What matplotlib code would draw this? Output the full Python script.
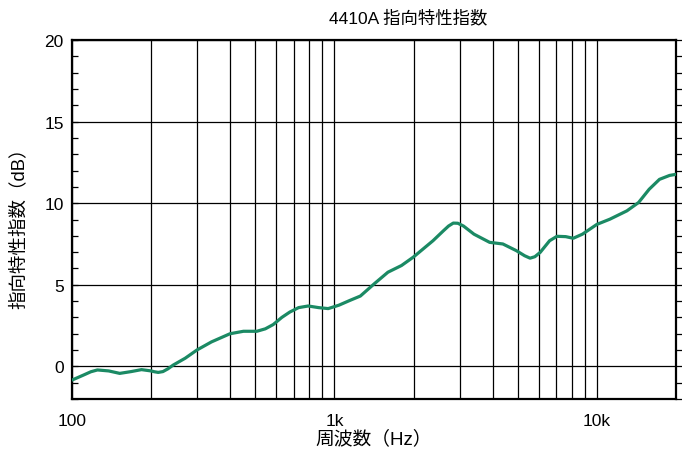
import matplotlib
matplotlib.use("Agg")
import matplotlib.pyplot as plt
from matplotlib.ticker import FixedLocator, LogLocator, MultipleLocator, NullFormatter

plt.rcParams['font.family'] = ['Liberation Sans', 'Noto Sans CJK JP', 'DejaVu Sans']

# Directivity index of the 4410A (dB) versus frequency (Hz)
freq_hz = [100, 110, 118, 125, 138, 152, 168, 184, 200, 206, 213, 222, 232, 243,
           270, 299, 340, 400, 450, 506, 545, 584, 630, 676, 730, 794, 870, 946,
           1040, 1144, 1255, 1415, 1598, 1800, 1995, 2373, 2600, 2720, 2835,
           2950, 3100, 3400, 3900, 4380, 4930, 5300, 5560, 5800, 6080, 6600,
           7040, 7600, 8120, 8800, 9990, 11200, 13000, 14400, 15800, 17300,
           18900, 20000]
di_db = [-0.84, -0.55, -0.33, -0.22, -0.28, -0.43, -0.32, -0.20, -0.28, -0.33,
         -0.37, -0.32, -0.15, 0.08, 0.50, 1.00, 1.50, 2.00, 2.15, 2.15, 2.30,
         2.56, 3.00, 3.33, 3.60, 3.70, 3.60, 3.54, 3.75, 4.04, 4.31, 5.05, 5.77,
         6.18, 6.69, 7.70, 8.31, 8.60, 8.78, 8.77, 8.60, 8.10, 7.60, 7.50, 7.09,
         6.78, 6.63, 6.72, 6.99, 7.70, 7.97, 7.95, 7.85, 8.10, 8.70, 9.02, 9.53,
         10.04, 10.85, 11.46, 11.70, 11.77]

x_major = [100, 1000, 10000]
x_major_labels = ['100', '1k', '10k']
y_major = [0, 5, 10, 15, 20]

title = '4410A 指向特性指数'
xlabel = '周波数（Hz）'
ylabel = '指向特性指数（dB）'

fig = plt.figure(figsize=(6.82, 4.56), dpi=100)
ax = fig.add_axes([72 / 682, 1 - 400 / 456, (676 - 72) / 682, (400 - 41) / 456])

ax.set_xscale('log')
ax.set_xlim(100, 20000)
ax.set_ylim(-2, 20)

ax.xaxis.set_major_locator(FixedLocator(x_major))
ax.set_xticks(x_major, x_major_labels)
ax.xaxis.set_minor_locator(LogLocator(base=10, subs=range(2, 10), numticks=20))
ax.xaxis.set_minor_formatter(NullFormatter())
ax.yaxis.set_major_locator(FixedLocator(y_major))
ax.yaxis.set_minor_locator(MultipleLocator(1))

ax.grid(True, which='both', axis='x', color='black', linewidth=0.9)
ax.grid(True, which='major', axis='y', color='black', linewidth=0.9)

ax.tick_params(axis='x', which='both', length=0, pad=10, labelsize=12.5)
ax.tick_params(axis='y', which='both', direction='in', length=4, width=0.9,
               pad=6, labelsize=12.5, right=False)

for s in ax.spines.values():
    s.set_linewidth(1.6)

# right side ticks point outwards
axr = ax.twinx()
axr.set_ylim(ax.get_ylim())
axr.yaxis.set_major_locator(FixedLocator(y_major))
axr.yaxis.set_minor_locator(MultipleLocator(1))
axr.tick_params(axis='y', which='both', direction='out', length=4, width=0.9,
                labelright=False)
for s in axr.spines.values():
    s.set_visible(False)

ax.plot(freq_hz, di_db, color='#1b8a64', linewidth=2.3,
        solid_joinstyle='round', solid_capstyle='round', zorder=5)

fig.text(408 / 682, 1 - 18 / 456, title, ha='center', va='center', fontsize=12.5)
ax.set_xlabel(xlabel, fontsize=13.5, labelpad=1)
fig.text(19 / 682, 1 - 224 / 456, ylabel, rotation=90, ha='center', va='center',
         fontsize=13.3)

fig.savefig('out.png', dpi=100)
